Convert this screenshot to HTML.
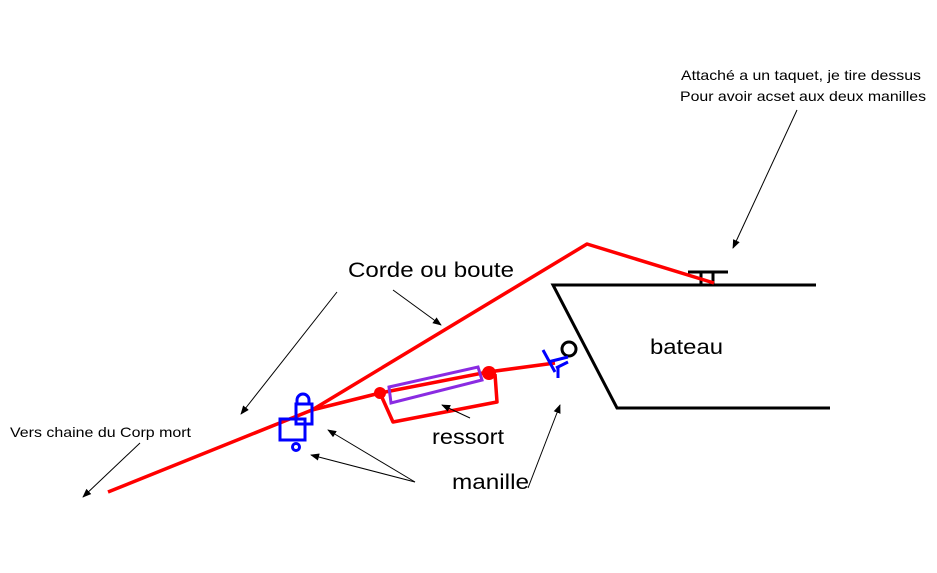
<!DOCTYPE html>
<html><head><meta charset="utf-8"><style>
html,body{margin:0;padding:0;background:#fff;width:937px;height:573px;overflow:hidden}
text{font-family:"Liberation Sans",Arial,sans-serif}
</style></head><body>
<svg width="937" height="573" viewBox="0 0 937 573" xmlns="http://www.w3.org/2000/svg">
<defs><marker id="a" viewBox="0 0 10 10" refX="9" refY="5" markerWidth="9" markerHeight="9" orient="auto" markerUnits="userSpaceOnUse"><path d="M0,1 L10,5 L0,9 z" fill="#000"/></marker></defs>
<g stroke="#000" stroke-width="3" fill="none">
<polyline points="816,285 553,285 617,408 830,408"/>
<line x1="688" y1="272" x2="728" y2="272"/>
<line x1="701" y1="272" x2="701" y2="284"/>
<line x1="713" y1="272" x2="713" y2="284"/>
<circle cx="569" cy="349" r="7"/>
</g>
<g stroke="#f00" stroke-width="3.5" fill="none" stroke-linejoin="round">
<polyline points="108,492 312,410 587,244 714,283"/>
<polyline points="312,410 380,393 488,372 555,363"/>
<polyline points="380,393 393,422 497,402 495,374"/>
</g>
<circle cx="380" cy="393" r="6" fill="#f00"/>
<circle cx="489" cy="373" r="7" fill="#f00"/>
<polygon points="389,387 478,367 482,380 391,403" fill="none" stroke="#8a2be2" stroke-width="3"/>
<g stroke="#00f" stroke-width="3" fill="none">
<rect x="280" y="419" width="25" height="21"/>
<rect x="296" y="404" width="16" height="20"/>
<path d="M297,404 v-4 a4,4 0 0 1 12,0 v4"/>
<circle cx="296" cy="447" r="3.5"/>
<path d="M543,350 L555,372 M548,362 L568,357 M556,368 L568,362 M558,368 v10"/>
</g>
<g stroke="#000" stroke-width="1" marker-end="url(#a)">
<line x1="797" y1="110" x2="733" y2="248"/>
<line x1="337" y1="292" x2="241" y2="414"/>
<line x1="393" y1="290" x2="441" y2="325"/>
<line x1="140" y1="443" x2="83" y2="497"/>
<line x1="415" y1="482" x2="328" y2="430"/>
<line x1="415" y1="482" x2="311" y2="455"/>
<line x1="528" y1="488" x2="560" y2="405"/>
<line x1="470" y1="418" x2="442" y2="405"/>
</g>
<g fill="#000">
<text x="348" y="277" font-size="21" textLength="166" lengthAdjust="spacingAndGlyphs">Corde ou boute</text>
<text x="650" y="354" font-size="21" textLength="73" lengthAdjust="spacingAndGlyphs">bateau</text>
<text x="432" y="444" font-size="21" textLength="72" lengthAdjust="spacingAndGlyphs">ressort</text>
<text x="452" y="489" font-size="21" textLength="77" lengthAdjust="spacingAndGlyphs">manille</text>
<text x="10" y="437" font-size="14" textLength="181" lengthAdjust="spacingAndGlyphs">Vers chaine du Corp mort</text>
<text x="681" y="80" font-size="14" textLength="240" lengthAdjust="spacingAndGlyphs">Attaché a un taquet, je tire dessus</text>
<text x="680" y="101" font-size="14" textLength="246" lengthAdjust="spacingAndGlyphs">Pour avoir acset aux deux manilles</text>
</g>
</svg>
</body></html>
